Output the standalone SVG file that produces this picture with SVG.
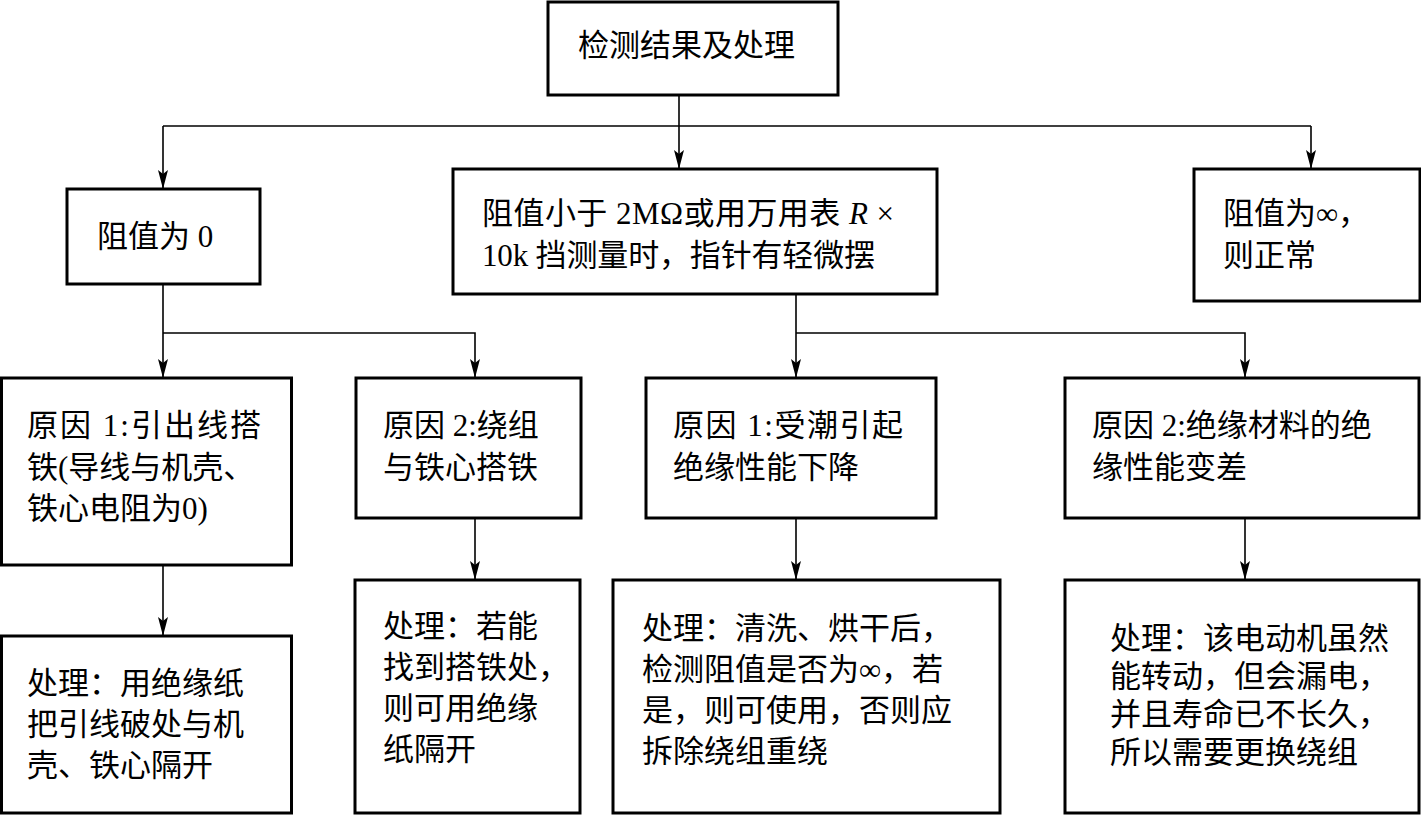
<svg xmlns="http://www.w3.org/2000/svg" width="1421" height="815" viewBox="0 0 1421 815">
<defs>
<marker id="arr" markerUnits="userSpaceOnUse" markerWidth="20" markerHeight="10" viewBox="0 0 20 10" refX="19" refY="5" orient="auto">
<path d="M0,0 L4,5 L0,10 L19,5 Z" fill="#000"/>
</marker>
</defs>
<style>
.box{fill:#fff;stroke:#000;stroke-width:3}
.t{font-family:"Liberation Serif","Noto Sans CJK SC",serif;font-size:31px;fill:#000}
.c{fill:none;stroke:#000;stroke-width:1.6}
.a{marker-end:url(#arr)}
</style>
<rect width="1421" height="815" fill="#fff"/>
<g id="connectors">
<path class="c" d="M163,126 H1311"/>
<path class="c a" d="M679,95 V169"/>
<path class="c a" d="M163,126 V189"/>
<path class="c a" d="M1311,126 V169"/>
<path class="c a" d="M163,284 V378"/>
<path class="c a" d="M163,333 H475 V378"/>
<path class="c a" d="M796,294 V378"/>
<path class="c a" d="M796,333 H1245 V378"/>
<path class="c a" d="M163,565 V636"/>
<path class="c a" d="M475,518 V580"/>
<path class="c a" d="M796,518 V580"/>
<path class="c a" d="M1245,518 V580"/>
</g>
<g id="title">
<rect class="box" x="548" y="2" width="290" height="93"/>
<text class="t" x="578" y="56">检测结果及处理</text>
</g>
<g id="zero">
<rect class="box" x="67" y="189" width="193" height="95"/>
<text class="t" x="97" y="247">阻值为 0</text>
</g>
<g id="small">
<rect class="box" x="453" y="169" width="484" height="125"/>
<text class="t" x="482" y="224" textLength="412">阻值小于 2MΩ或用万用表 <tspan font-style="italic">R</tspan> ×</text>
<text class="t" x="482" y="266" textLength="393">10k 挡测量时，指针有轻微摆</text>
</g>
<g id="inf">
<rect class="box" x="1194" y="169" width="226" height="132"/>
<text class="t" x="1223" y="224">阻值为∞，</text>
<text class="t" x="1223" y="266">则正常</text>
</g>
<g id="causeA">
<rect class="box" x="1.5" y="378" width="290" height="187"/>
<text class="t" x="27" y="436" textLength="234">原因 1:引出线搭</text>
<text class="t" x="27" y="478">铁(导线与机壳、</text>
<text class="t" x="27" y="519">铁心电阻为0)</text>
</g>
<g id="causeB">
<rect class="box" x="356" y="378" width="225" height="140"/>
<text class="t" x="383" y="436">原因 2:绕组</text>
<text class="t" x="383" y="478">与铁心搭铁</text>
</g>
<g id="causeC">
<rect class="box" x="646" y="378" width="290" height="140"/>
<text class="t" x="673" y="436" textLength="230">原因 1:受潮引起</text>
<text class="t" x="673" y="478">绝缘性能下降</text>
</g>
<g id="causeD">
<rect class="box" x="1065" y="378" width="354" height="140"/>
<text class="t" x="1092" y="436">原因 2:绝缘材料的绝</text>
<text class="t" x="1092" y="478">缘性能变差</text>
</g>
<g id="fixA">
<rect class="box" x="1.5" y="636" width="290" height="177"/>
<text class="t" x="27" y="694">处理：用绝缘纸</text>
<text class="t" x="27" y="735">把引线破处与机</text>
<text class="t" x="27" y="776">壳、铁心隔开</text>
</g>
<g id="fixB">
<rect class="box" x="355" y="580" width="225" height="233"/>
<text class="t" x="383" y="637">处理：若能</text>
<text class="t" x="383" y="678">找到搭铁处，</text>
<text class="t" x="383" y="719">则可用绝缘</text>
<text class="t" x="383" y="760">纸隔开</text>
</g>
<g id="fixC">
<rect class="box" x="613" y="580" width="387" height="233"/>
<text class="t" x="642" y="639">处理：清洗、烘干后，</text>
<text class="t" x="642" y="680">检测阻值是否为∞，若</text>
<text class="t" x="642" y="721">是，则可使用，否则应</text>
<text class="t" x="642" y="762">拆除绕组重绕</text>
</g>
<g id="fixD">
<rect class="box" x="1065" y="580" width="354" height="233"/>
<text class="t" x="1110" y="649">处理：该电动机虽然</text>
<text class="t" x="1110" y="687">能转动，但会漏电，</text>
<text class="t" x="1110" y="725">并且寿命已不长久，</text>
<text class="t" x="1110" y="763">所以需要更换绕组</text>
</g>
</svg>
